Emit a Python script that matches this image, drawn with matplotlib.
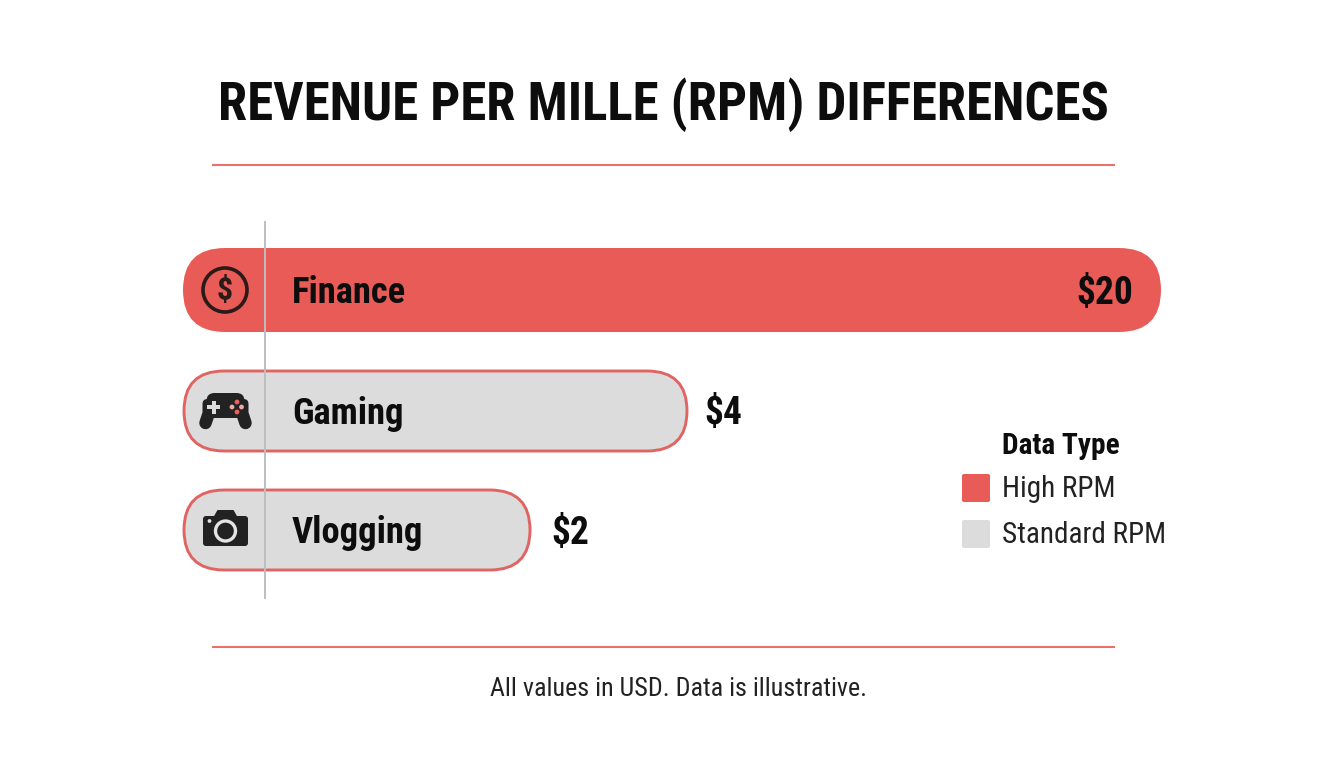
"""Revenue per mille (RPM) differences: rounded horizontal bars with icons."""

import matplotlib
matplotlib.use("Agg")
import matplotlib.pyplot as plt
from matplotlib.patches import Circle, FancyBboxPatch, Polygon, Rectangle

RED = "#E95B56"
GREY = "#DCDCDC"
EDGE = "#DF6462"
RULE = "#E8736B"
AXIS = "#BCBEC1"
INK = "#0D0D0D"
DARK = "#222222"

# bars are drawn longer than their value would give, so lengths are read separately
categories = ["Finance", "Gaming", "Vlogging"]
value_labels = ["$20", "$4", "$2"]
bar_lengths = [978, 505, 348]
high_rpm = [True, False, False]
legend_labels = ["High RPM", "Standard RPM"]

BAR_LEFT = 183
BAR_TOPS = [248, 370, 489]
BAR_HEIGHTS = [84, 82, 82]
LABEL_GAPS = [28, 16, 20]

plt.rcParams["font.family"] = "Roboto Condensed"


def rounded(ax, x, y, w, h, r, **kw):
    box = FancyBboxPatch((x, y), w, h, boxstyle=f"round,pad=0,rounding_size={r}", **kw)
    ax.add_patch(box)
    return box


def draw_dollar(ax, cx, cy):
    ax.add_patch(Circle((cx, cy), 22, facecolor="none", edgecolor="#2A1A18", linewidth=2.6, zorder=5))
    ax.text(cx, cy + 1, "$", fontsize=23, fontweight="bold", color="#2A1A18", ha="center", va="center", zorder=5)


def draw_gamepad(ax, cx, cy):
    rounded(ax, cx - 19, cy - 18, 38, 25, 8, facecolor=DARK, edgecolor="none", zorder=5)
    rounded(ax, cx - 23, cy - 12, 46, 16, 5, facecolor=DARK, edgecolor="none", zorder=5)
    # the two grips
    for side in (-1, 1):
        ax.plot([cx + side * 14, cx + side * 20], [cy - 6, cy + 12], color=DARK, linewidth=9,
                solid_capstyle="round", zorder=5)
    ax.add_patch(Rectangle((cx - 18.5, cy - 6), 13, 4, facecolor=GREY, zorder=6))
    ax.add_patch(Rectangle((cx - 14, cy - 10.5), 4, 13, facecolor=GREY, zorder=6))
    for dx, dy, c in [(6.5, -4, "#F0A8A4"), (11.5, -9, "#E8625E"), (11.5, 1, "#E8625E"), (16, -4, "#F0A8A4")]:
        ax.add_patch(Circle((cx + dx, cy + dy), 2.4, facecolor=c, zorder=6))


def draw_camera(ax, cx, cy):
    rounded(ax, cx - 22.5, cy - 14, 45, 30, 3, facecolor=DARK, edgecolor="none", zorder=5)
    ax.add_patch(Polygon([(cx - 12, cy - 13), (cx - 8, cy - 20), (cx + 8, cy - 20), (cx + 12, cy - 13)],
                         closed=True, facecolor=DARK, zorder=5))
    ax.add_patch(Circle((cx, cy + 1), 10, facecolor=DARK, edgecolor="#E4E4E4", linewidth=2.4, zorder=6))
    ax.add_patch(Circle((cx - 16, cy - 9), 1.9, facecolor="#E4E4E4", zorder=6))


def main():
    fig = plt.figure(figsize=(13.44, 7.68), dpi=100, facecolor="white")
    ax = fig.add_axes([0, 0, 1, 1])
    ax.set_xlim(0, 1344)
    ax.set_ylim(768, 0)
    ax.axis("off")

    ax.text(664, 105, "REVENUE PER MILLE (RPM) DIFFERENCES", fontsize=38.1, fontweight="bold",
            color=INK, ha="center", va="center")
    for y in (165, 647):
        ax.plot([212, 1115], [y, y], color=RULE, linewidth=1.5, solid_capstyle="butt")

    icons = [draw_dollar, draw_gamepad, draw_camera]
    icon_pos = [(225, 290), (225.5, 411), (225.5, 530)]
    for i, name in enumerate(categories):
        top, h, length = BAR_TOPS[i], BAR_HEIGHTS[i], bar_lengths[i]
        mid = top + h / 2 + 3
        if high_rpm[i]:
            rounded(ax, BAR_LEFT, top, length, h, 42, facecolor=RED, edgecolor="none", zorder=2)
            ax.text(BAR_LEFT + length - LABEL_GAPS[i], mid, value_labels[i], fontsize=27, fontweight="bold",
                    color=INK, ha="right", va="center", zorder=4)
        else:
            rounded(ax, BAR_LEFT + 1, top + 1, length - 2, h - 2, 40, facecolor=GREY, edgecolor=EDGE,
                    linewidth=2.1, zorder=2)
            ax.text(BAR_LEFT + length + LABEL_GAPS[i], mid, value_labels[i], fontsize=27, fontweight="bold",
                    color=INK, ha="left", va="center", zorder=4)
        ax.text(292, mid, name, fontsize=26.4, fontweight="bold", color=INK, ha="left", va="center", zorder=4)
        icons[i](ax, *icon_pos[i])

    ax.plot([264.5, 264.5], [222, 598], color=AXIS, linewidth=1.4, zorder=3)

    ax.text(1002, 446, "Data Type", fontsize=21.2, fontweight="bold", color=INK, ha="left", va="center")
    for y, label, color in zip([474, 520], legend_labels, [RED, GREY]):
        rounded(ax, 962, y, 28, 28, 2, facecolor=color, edgecolor="none")
        ax.text(1002, y + 15, label, fontsize=21, color="#222222", ha="left", va="center")

    ax.text(678, 689, "All values in USD. Data is illustrative.", fontsize=18.75, color="#222222",
            ha="center", va="center")

    fig.savefig("out.png", dpi=100, facecolor="white")
    plt.close(fig)


if __name__ == "__main__":
    main()
